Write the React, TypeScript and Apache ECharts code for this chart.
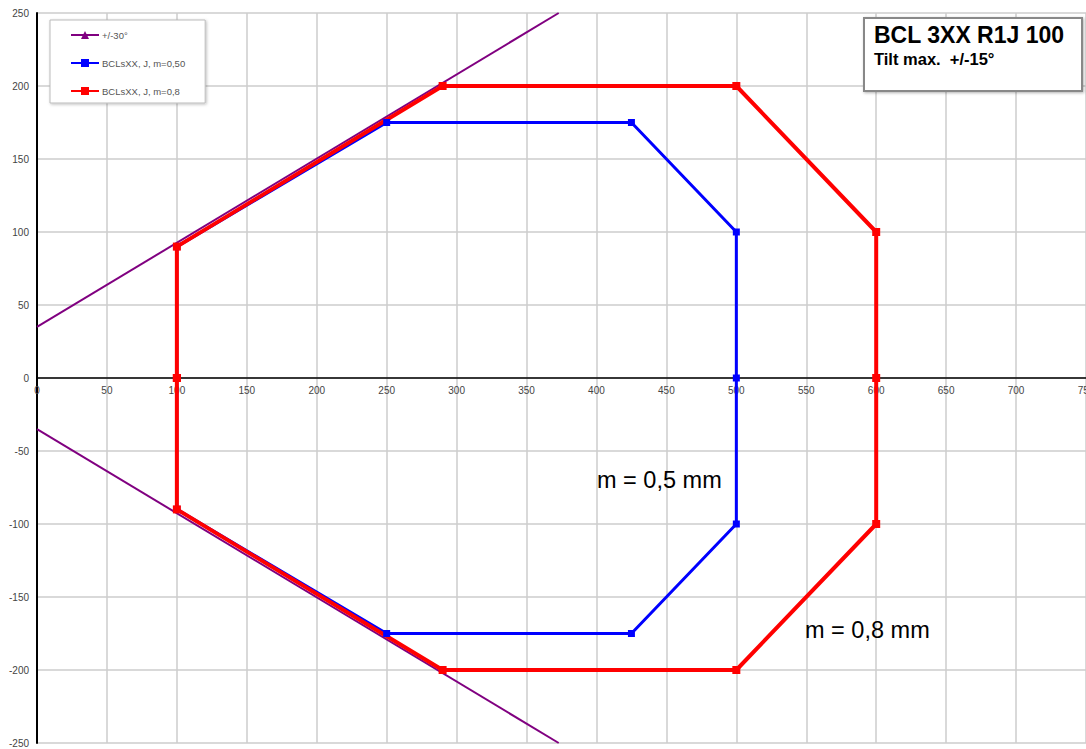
import React, { useEffect, useRef } from "react";
import * as echarts from "echarts";

const tiltUpper: [number, number][] = [[0, 35], [373, 250]];
const tiltLower: [number, number][] = [[0, -35], [373, -250]];
const blueM050: [number, number][] = [
  [100, 0], [100, 90], [250, 175], [425, 175], [500, 100], [500, 0],
  [500, -100], [425, -175], [250, -175], [100, -90], [100, 0],
];
const redM08: [number, number][] = [
  [100, 0], [100, 90], [290, 200], [500, 200], [600, 100], [600, 0],
  [600, -100], [500, -200], [290, -200], [100, -90], [100, 0],
];
const legendNames = ["+/-30°", "BCLsXX, J, m=0,50", "BCLsXX, J, m=0,8"];

export default function App() {
  const ref = useRef<HTMLDivElement>(null);
  useEffect(() => {
    if (!ref.current) return;
    const chart = echarts.init(ref.current, undefined, { renderer: "svg" });
    const font = "Liberation Sans, Arial, sans-serif";
    chart.setOption({
      animation: false,
      backgroundColor: "#ffffff",
      grid: { left: 37, right: 0, top: 13, bottom: 6, containLabel: false, outerBoundsMode: "none" },
      xAxis: {
        type: "value", min: 0, max: 750, interval: 50,
        offset: -365,
        axisLine: { onZero: false, lineStyle: { color: "#000", width: 1.5 } },
        axisTick: { show: false },
        axisLabel: { fontSize: 10, color: "#444", fontFamily: font, margin: 7 },
        splitLine: { show: true, lineStyle: { color: "#cccccc", width: 1.5 } },
      },
      yAxis: {
        type: "value", min: -250, max: 250, interval: 50,
        axisLine: { show: true, onZero: false, lineStyle: { color: "#000", width: 2 } },
        axisTick: { show: false },
        axisLabel: { fontSize: 10, color: "#444", fontFamily: font, margin: 8 },
        splitLine: { show: true, lineStyle: { color: "#cccccc", width: 1.5 } },
      },
      legend: {
        data: legendNames,
        orient: "vertical", left: 50, top: 20,
        padding: [10, 20, 7, 20],
        itemGap: 18, itemWidth: 28, itemHeight: 10,
        backgroundColor: "#fff", borderColor: "#bbbbbb", borderWidth: 1,
        shadowColor: "rgba(0,0,0,0.25)", shadowBlur: 3, shadowOffsetX: 1, shadowOffsetY: 1,
        textStyle: { fontSize: 9.5, color: "#555", fontFamily: font, padding: [0, 0, 0, -2] },
      },
      series: [
        {
          name: legendNames[0], type: "line", data: tiltUpper, showSymbol: false,
          symbol: "triangle", symbolSize: 6, clip: true,
          lineStyle: { color: "#800080", width: 2 }, itemStyle: { color: "#800080" },
        },
        {
          name: legendNames[0], type: "line", data: tiltLower, showSymbol: false,
          symbol: "triangle", symbolSize: 6, clip: true,
          lineStyle: { color: "#800080", width: 2 }, itemStyle: { color: "#800080" },
        },
        {
          name: legendNames[1], type: "line", data: blueM050, symbol: "rect", symbolSize: 7,
          lineStyle: { color: "#0000ff", width: 3 }, itemStyle: { color: "#0000ff" },
        },
        {
          name: legendNames[2], type: "line", data: redM08, symbol: "rect", symbolSize: 8,
          lineStyle: { color: "#ff0000", width: 4 }, itemStyle: { color: "#ff0000" },
        },
      ],
      graphic: [
        {
          type: "rect", left: 863, top: 17, shape: { width: 218, height: 73 },
          style: { fill: "#fff", stroke: "#888", lineWidth: 2, shadowColor: "rgba(0,0,0,0.3)", shadowBlur: 3, shadowOffsetX: 1, shadowOffsetY: 1 },
          z: 100,
        },
        {
          type: "text", left: 874, top: 23, z: 101,
          style: { text: "BCL 3XX R1J 100", font: "bold 23px Liberation Sans, Arial, sans-serif", fill: "#000" },
        },
        {
          type: "text", left: 874, top: 50, z: 101,
          style: { text: "Tilt max.  +/-15°", font: "bold 16.5px Liberation Sans, Arial, sans-serif", fill: "#000" },
        },
        {
          type: "text", left: 597, top: 468, z: 101,
          style: { text: "m = 0,5 mm", font: "23.5px Liberation Sans, Arial, sans-serif", fill: "#000" },
        },
        {
          type: "text", left: 805, top: 618, z: 101,
          style: { text: "m = 0,8 mm", font: "23.5px Liberation Sans, Arial, sans-serif", fill: "#000" },
        },
      ],
    });
    return () => chart.dispose();
  }, []);
  return <div ref={ref} style={{ width: 1086, height: 749, position: "absolute", left: 0, top: 0 }} />;
}
